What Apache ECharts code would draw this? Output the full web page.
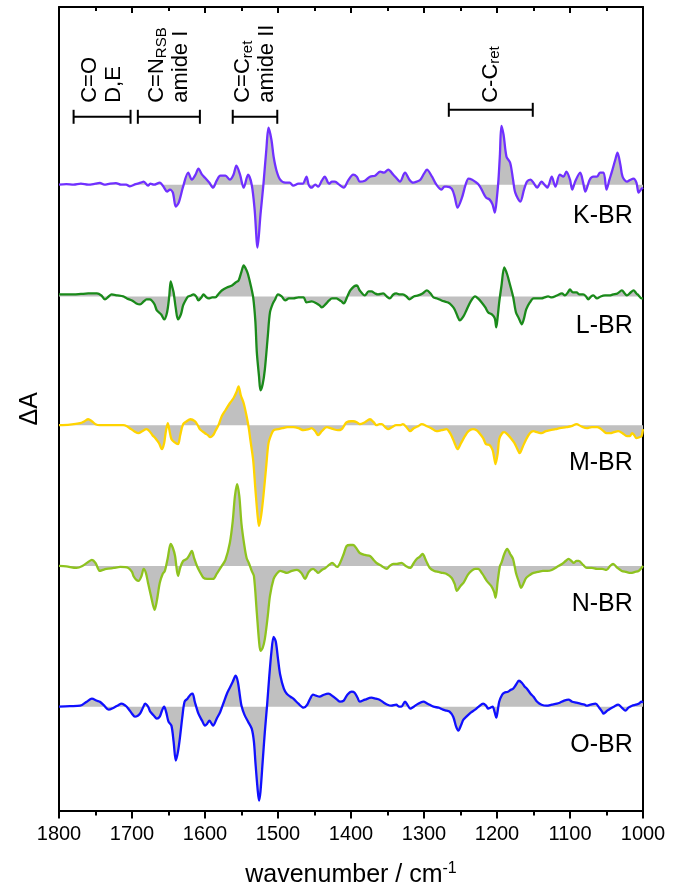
<!DOCTYPE html>
<html>
<head>
<meta charset="utf-8">
<script src="https://cdn.jsdelivr.net/npm/echarts@6/dist/echarts.min.js"></script>
<style>
  html, body { margin: 0; padding: 0; background: #fff; }
  #chart { width: 682px; height: 893px; }
</style>
</head>
<body>
<div id="chart"></div>
<script>
// difference spectra, [wavenumber (cm-1), dA (arb. units)]
const kBR = [[1800,0],[1790,0.5],[1780,0],[1770,1],[1760,0],[1750,1],[1744,1.7],[1738,0],[1730,1],[1722,1.5],[1715,0],[1708,0],[1703,-1.7],[1695,0.5],[1688,2],[1684,3],[1678,-1],[1675,1],[1670,0],[1662,2],[1656,-3],[1652,-7],[1648,-5],[1644,-8],[1640,-22],[1636,-18],[1630,-2],[1623,12],[1618,5],[1613,10],[1609,16],[1604,10],[1600,7],[1594,2],[1589,-3],[1584,4],[1579,9],[1572,9],[1566,5],[1561,10],[1557,19],[1552,10],[1547,-3],[1541,10],[1536,0],[1532,-25],[1528,-63],[1524,-30],[1520,0],[1516,35],[1513,57],[1509,45],[1506,28],[1502,14],[1497,5],[1490,2],[1484,2],[1479,-1],[1472,1],[1466,1],[1461,8],[1458,0],[1454,-3],[1449,0],[1445,-2],[1440,4],[1436,8],[1430,1],[1426,3],[1422,3],[1416,0],[1410,-3],[1404,4],[1397,10],[1392,8],[1388,3],[1381,4],[1374,8],[1367,9],[1360,13],[1355,12],[1349,15],[1342,10],[1337,6],[1333,3],[1326,12],[1320,5],[1315,2],[1310,3],[1305,5],[1300,11],[1296,15],[1289,8],[1283,0],[1276,-5],[1272,-2],[1269,-2],[1262,-4],[1258,-12],[1254,-23],[1248,-13],[1243,0],[1239,6],[1234,5],[1230,3],[1225,0],[1221,-5],[1215,-13],[1210,-15],[1206,-20],[1203,-28],[1200,-12],[1198,5],[1196,30],[1194,59],[1191,50],[1187,28],[1182,22],[1178,5],[1175,-8],[1168,-17],[1163,-5],[1159,3],[1154,5],[1150,2],[1145,-3],[1139,3],[1135,0],[1131,-3],[1125,8],[1120,-2],[1114,10],[1109,8],[1105,13],[1100,5],[1097,-5],[1093,3],[1086,12],[1082,2],[1079,-7],[1073,5],[1068,8],[1063,8],[1059,12],[1054,12],[1050,-5],[1046,5],[1043,12],[1038,25],[1035,32],[1031,20],[1028,8],[1022,3],[1017,5],[1013,6],[1009,2],[1006,-8],[1003,-5],[1000,-3]];

const lBR = [[1800,2],[1790,2],[1780,2],[1770,2.5],[1760,3],[1748,3],[1742,1],[1737,-3],[1732,0],[1728,2],[1720,1],[1712,0],[1707,-2],[1700,-4],[1694,-7],[1689,-8],[1684,-5],[1680,-3],[1676,-3],[1673,-4],[1669,-8],[1666,-14],[1660,-18],[1656,-23],[1652,-16],[1649,0],[1647,15],[1645,10],[1643,4],[1640,-12],[1637,-23],[1633,-18],[1630,-9],[1626,-3],[1623,0],[1619,1],[1616,2],[1612,0],[1609,-4],[1605,-1],[1602,2],[1598,-1],[1595,-2],[1590,-1],[1586,-1],[1581,3],[1577,6],[1570,9],[1563,11],[1558,14],[1554,16],[1550,25],[1547,31],[1543,26],[1541,22],[1537,10],[1534,-1],[1531,-25],[1529,-56],[1526,-80],[1524,-94],[1521,-88],[1518,-73],[1514,-40],[1511,-16],[1507,-7],[1504,-3],[1500,2],[1495,0],[1490,-4],[1485,-2],[1479,-2],[1472,-1],[1465,-1],[1461,-6],[1454,-5],[1447,-7],[1443,-9],[1440,-11],[1435,-8],[1430,-4],[1426,-2],[1420,-2],[1417,-3],[1413,-5],[1410,-7],[1405,0],[1401,6],[1396,10],[1392,11],[1388,6],[1381,1],[1376,5],[1372,5],[1367,3],[1363,2],[1356,3],[1351,0],[1347,-2],[1342,2],[1338,3],[1333,2],[1329,2],[1324,0],[1320,-3],[1314,0],[1308,1],[1302,3],[1296,6],[1291,3],[1287,-1],[1282,-2],[1276,-4],[1272,-5],[1267,-6],[1262,-9],[1258,-13],[1254,-20],[1251,-24],[1246,-20],[1242,-14],[1236,-5],[1230,0],[1226,-2],[1221,-6],[1216,-11],[1212,-16],[1207,-18],[1203,-22],[1201,-31],[1199,-20],[1197,-6],[1194,10],[1190,29],[1186,22],[1183,14],[1178,0],[1174,-16],[1170,-22],[1166,-28],[1163,-22],[1160,-13],[1155,-6],[1150,-2],[1145,-2],[1139,-2],[1135,-1],[1130,0],[1125,-1],[1118,1],[1111,3],[1107,1],[1103,4],[1100,7],[1096,4],[1091,4],[1087,2],[1082,2],[1078,0],[1075,-3],[1071,0],[1068,1],[1063,-2],[1058,0],[1052,1],[1046,1],[1041,2],[1035,3],[1029,6],[1025,3],[1022,1],[1017,4],[1013,6],[1009,3],[1006,1],[1002,-2],[1000,-2]];

const mBR = [[1800,0],[1785,0.5],[1771,2],[1765,4],[1760,6],[1755,4],[1750,1],[1744,0],[1730,0],[1720,0],[1712,0],[1707,-1],[1703,-3],[1697,-6],[1691,-8],[1686,-6],[1680,-4],[1676,-6],[1672,-10],[1668,-13],[1663,-18],[1659,-24],[1656,-18],[1654,-8],[1651,2],[1649,-4],[1646,-14],[1642,-17],[1637,-19],[1634,-10],[1630,1],[1625,4],[1620,6],[1614,4],[1610,0],[1607,-4],[1600,-8],[1596,-10],[1593,-12],[1589,-10],[1586,-6],[1581,1],[1577,9],[1572,15],[1566,22],[1561,27],[1557,33],[1554,39],[1551,30],[1547,22],[1543,9],[1540,-3],[1538,-14],[1534,-35],[1531,-64],[1528,-90],[1526,-101],[1523,-90],[1520,-71],[1516,-40],[1513,-18],[1509,-9],[1506,-5],[1500,-4],[1494,-3],[1487,-2],[1479,-2],[1472,-3],[1465,-5],[1458,-4],[1454,-3],[1449,-6],[1445,-10],[1440,-6],[1433,-2],[1428,-3],[1424,-4],[1418,-5],[1413,-4],[1409,0],[1406,3],[1400,4],[1397,4],[1392,3],[1388,1],[1381,3],[1374,6],[1369,3],[1365,0],[1361,1],[1358,1],[1353,-2],[1349,-4],[1344,-2],[1338,0],[1333,0],[1329,1],[1324,-2],[1319,-6],[1314,-3],[1308,-1],[1303,1],[1296,-1],[1290,-3],[1283,-6],[1276,-5],[1269,-4],[1265,-7],[1262,-11],[1258,-18],[1254,-24],[1250,-19],[1244,-11],[1239,-6],[1233,-4],[1228,-5],[1224,-8],[1219,-13],[1215,-19],[1210,-20],[1206,-25],[1204,-32],[1202,-39],[1199,-28],[1197,-14],[1193,-8],[1190,-7],[1186,-9],[1181,-13],[1176,-18],[1172,-24],[1169,-28],[1165,-22],[1160,-14],[1155,-8],[1150,-6],[1145,-7],[1139,-8],[1133,-6],[1127,-5],[1120,-4],[1114,-3],[1105,-2],[1098,-1],[1091,1],[1085,-1],[1077,-3],[1070,-2],[1063,-2],[1059,-3],[1054,-6],[1050,-8],[1045,-8],[1040,-7],[1034,-6],[1028,-8],[1022,-11],[1018,-11],[1015,-8],[1012,-10],[1009,-13],[1005,-12],[1002,-11],[1000,-4]];

const nBR = [[1800,0],[1790,-0.5],[1776,-2],[1768,0],[1760,4],[1755,6],[1750,3],[1744,-5],[1740,-4],[1735,-3],[1725,-2],[1716,-1],[1705,-2],[1700,-6],[1698,-10],[1694,-14],[1691,-15],[1687,-10],[1684,-3],[1681,-7],[1678,-17],[1674,-30],[1669,-44],[1666,-35],[1662,-17],[1658,-8],[1655,-5],[1651,8],[1647,22],[1644,18],[1641,10],[1637,-10],[1634,-2],[1630,5],[1625,7],[1622,10],[1618,15],[1615,8],[1611,0],[1607,-6],[1602,-12],[1597,-13],[1589,-13],[1584,-8],[1577,0],[1572,6],[1566,23],[1562,45],[1559,70],[1556,82],[1553,70],[1550,42],[1546,20],[1543,8],[1540,3],[1536,-5],[1533,-10],[1529,-47],[1526,-75],[1524,-85],[1521,-82],[1518,-73],[1514,-50],[1511,-30],[1506,-13],[1502,-8],[1497,-5],[1492,-6],[1488,-7],[1481,-5],[1474,-4],[1468,-7],[1463,-13],[1458,-6],[1452,-3],[1448,-5],[1445,-7],[1440,-4],[1435,-2],[1430,1],[1426,3],[1419,-1],[1415,3],[1410,12],[1406,20],[1401,21],[1397,21],[1392,17],[1388,13],[1381,11],[1374,10],[1369,6],[1365,3],[1358,0],[1351,-3],[1347,0],[1342,2],[1337,2],[1331,3],[1325,0],[1319,-2],[1314,3],[1310,7],[1306,9],[1302,12],[1297,5],[1292,-2],[1286,-5],[1280,-6],[1274,-7],[1269,-8],[1262,-12],[1258,-18],[1255,-25],[1250,-20],[1246,-17],[1240,-9],[1235,-5],[1230,-3],[1226,-3],[1220,-8],[1214,-15],[1208,-20],[1204,-26],[1202,-32],[1199,-15],[1196,0],[1194,3],[1190,12],[1186,17],[1182,12],[1178,7],[1174,-7],[1170,-16],[1167,-22],[1164,-18],[1160,-12],[1155,-9],[1150,-7],[1144,-6],[1137,-5],[1131,-5],[1125,-4],[1118,-1],[1111,2],[1106,5],[1102,7],[1098,5],[1095,3],[1091,5],[1088,5],[1082,1],[1077,-2],[1070,-2],[1063,-3],[1056,-3],[1050,-4],[1045,0],[1041,2],[1035,-2],[1029,-5],[1023,-6],[1017,-7],[1011,-6],[1006,-5],[1002,-2],[1000,0]];

const oBR = [[1800,0],[1785,0.5],[1771,1],[1762,5],[1755,8],[1748,6],[1744,5],[1738,1],[1732,-3],[1725,-1],[1720,1],[1714,3],[1709,1],[1705,-2],[1700,-7],[1696,-10],[1692,-9],[1689,-7],[1685,-1],[1682,3],[1678,0],[1675,-5],[1670,-9],[1666,-12],[1662,-10],[1659,-4],[1656,0],[1653,-6],[1650,-15],[1646,-19],[1643,-35],[1640,-54],[1637,-45],[1634,-29],[1631,-10],[1628,5],[1624,8],[1620,12],[1617,13],[1614,5],[1609,-7],[1604,-14],[1600,-19],[1597,-17],[1594,-14],[1591,-17],[1589,-19],[1584,-12],[1579,-5],[1575,3],[1570,13],[1566,19],[1562,25],[1558,31],[1555,25],[1552,10],[1550,1],[1546,-8],[1541,-15],[1536,-22],[1533,-35],[1531,-55],[1528,-82],[1526,-94],[1524,-85],[1521,-55],[1518,-25],[1515,1],[1512,30],[1509,55],[1506,70],[1503,65],[1500,48],[1497,32],[1492,18],[1488,13],[1483,10],[1479,8],[1472,3],[1465,-1],[1460,2],[1456,8],[1452,12],[1448,11],[1443,10],[1437,12],[1431,13],[1424,10],[1419,7],[1415,5],[1410,6],[1405,12],[1399,15],[1395,14],[1391,9],[1388,5],[1381,7],[1372,9],[1366,8],[1361,7],[1355,4],[1350,2],[1345,1],[1338,2],[1334,0],[1331,0],[1326,5],[1322,1],[1319,-2],[1314,0],[1308,3],[1301,5],[1295,3],[1287,0],[1280,-1],[1274,-3],[1269,-4],[1265,-5],[1260,-10],[1256,-20],[1253,-24],[1249,-18],[1246,-13],[1242,-10],[1236,-6],[1230,-3],[1225,0],[1219,3],[1215,1],[1212,-2],[1209,-1],[1206,0],[1203,-6],[1201,-11],[1199,-4],[1197,5],[1193,12],[1190,14],[1185,15],[1181,17],[1178,18],[1174,22],[1170,26],[1166,24],[1162,20],[1159,18],[1154,13],[1150,10],[1145,5],[1139,2],[1132,1],[1125,2],[1118,3],[1114,4],[1108,6],[1102,7],[1097,5],[1091,4],[1086,3],[1080,2],[1077,1],[1072,2],[1065,3],[1060,-1],[1056,-5],[1054,-7],[1049,-4],[1045,-2],[1040,0],[1034,2],[1029,-1],[1024,-4],[1020,-1],[1015,1],[1010,2],[1006,3],[1002,5],[1000,4]];

const names = ['K-BR', 'L-BR', 'M-BR', 'N-BR', 'O-BR'];
const spectra = [kBR, lBR, mBR, nBR, oBR];
const offsets = [627, 515, 386, 245, 104];   // vertical offset of each trace
const colors = ['#7030ff', '#1a8a1a', '#ffd400', '#8ec31f', '#1010ff'];
const labelDrop = [31, 30, 38, 38, 38];

// band assignments: [from, to] in cm-1
const bands = [
  { from: 1780, to: 1702, y: 695, text: '{t|C=O}\n{t|D,E}' },
  { from: 1692, to: 1607, y: 695, text: '{t|C=N}{s|RSB}\n{t|amide I}' },
  { from: 1562, to: 1501, y: 695, text: '{t|C=C}{s|ret}\n{t|amide II}' },
  { from: 1266, to: 1151, y: 702, text: '{t|C-C}{s|ret}' }
];
const bandTextBase = 709;

const FONT = '"Liberation Sans", Arial, sans-serif';
const chart = echarts.init(document.getElementById('chart'));

const series = [];
spectra.forEach((pts, i) => {
  const data = pts.map(([w, v]) => [w, offsets[i] + v]);
  // grey fill between trace and its zero line
  series.push({
    type: 'line', data, smooth: 0.3, symbol: 'none', silent: true, z: 1,
    lineStyle: { width: 0 },
    areaStyle: { color: '#c0c0c0', opacity: 1, origin: offsets[i] }
  });
  series.push({
    type: 'line', name: names[i], data, smooth: 0.3, symbol: 'none', z: 3,
    lineStyle: { color: colors[i], width: 2.3 }
  });
});

// trace labels
series.push({
  type: 'custom', z: 4, silent: true,
  data: names.map((n, i) => [1014, offsets[i] - labelDrop[i]]),
  renderItem: (params, api) => {
    const p = api.coord([api.value(0), api.value(1)]);
    return {
      type: 'text', x: p[0], y: p[1],
      style: { text: names[params.dataIndex], fontSize: 25, fontFamily: FONT, fill: '#000', align: 'right', verticalAlign: 'middle' }
    };
  }
});

// band brackets with rotated labels
series.push({
  type: 'custom', z: 4, silent: true,
  data: bands.map(b => [b.from, b.to, b.y]),
  renderItem: (params, api) => {
    const b = bands[params.dataIndex];
    const p1 = api.coord([b.from, b.y]);
    const p2 = api.coord([b.to, b.y]);
    const t = api.coord([(b.from + b.to) / 2, bandTextBase]);
    const st = { stroke: '#000', lineWidth: 2 };
    const cap = 7;
    return {
      type: 'group',
      children: [
        { type: 'line', shape: { x1: p1[0], y1: p1[1], x2: p2[0], y2: p2[1] }, style: st },
        { type: 'line', shape: { x1: p1[0], y1: p1[1] - cap, x2: p1[0], y2: p1[1] + cap }, style: st },
        { type: 'line', shape: { x1: p2[0], y1: p2[1] - cap, x2: p2[0], y2: p2[1] + cap }, style: st },
        {
          type: 'text', x: t[0], y: t[1], rotation: Math.PI / 2,
          style: {
            text: b.text, align: 'left', verticalAlign: 'middle', fill: '#000',
            fontFamily: FONT, fontSize: 22,
            rich: {
              t: { fontSize: 22, fontFamily: FONT, lineHeight: 24 },
              s: { fontSize: 15, fontFamily: FONT, lineHeight: 24, verticalAlign: 'bottom' }
            }
          }
        }
      ]
    };
  }
});

const axisLine = { show: true, onZero: false, lineStyle: { color: '#000', width: 2 } };

chart.setOption({
  animation: false,
  backgroundColor: '#fff',
  grid: { left: 59, right: 39, top: 7, bottom: 81 },
  xAxis: [
    {
      type: 'value', min: 1000, max: 1800, interval: 100, inverse: true,
      name: 'wavenumber / cm{sup|-1}', nameLocation: 'middle', nameGap: 50,
      nameTextStyle: {
        fontSize: 25, fontFamily: FONT, color: '#000',
        rich: { sup: { fontSize: 16, fontFamily: FONT, verticalAlign: 'top', lineHeight: 30 } }
      },
      axisLine,
      axisTick: { show: true, length: 8, lineStyle: { color: '#000', width: 2 } },
      minorTick: { show: true, splitNumber: 2, length: 5, lineStyle: { color: '#000', width: 2 } },
      axisLabel: { fontSize: 20, fontFamily: FONT, color: '#000', margin: 14, formatter: v => String(v) },
      splitLine: { show: false }
    },
    {
      type: 'value', min: 1000, max: 1800, interval: 100, inverse: true, position: 'top',
      axisLine,
      axisTick: { show: true, inside: true, length: 6, lineStyle: { color: '#000', width: 2 } },
      minorTick: { show: true, splitNumber: 2, length: 4, lineStyle: { color: '#000', width: 2 } },
      axisLabel: { show: false },
      splitLine: { show: false }
    }
  ],
  yAxis: [
    {
      type: 'value', min: 0, max: 805,
      name: 'ΔA', nameLocation: 'middle', nameRotate: 90, nameGap: 16,
      nameTextStyle: { fontSize: 25, fontFamily: FONT, color: '#000' },
      axisLine, axisTick: { show: false }, axisLabel: { show: false }, splitLine: { show: false }
    },
    {
      type: 'value', min: 0, max: 805, position: 'right',
      axisLine, axisTick: { show: false }, axisLabel: { show: false }, splitLine: { show: false }
    }
  ],
  series
});
</script>
</body>
</html>
